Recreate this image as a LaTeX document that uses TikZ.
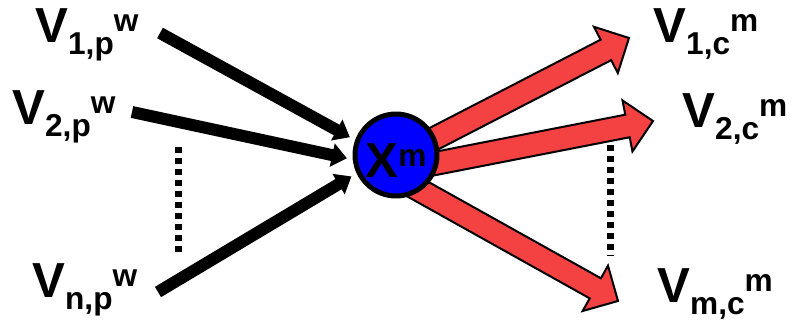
\documentclass[tikz,border=0pt]{standalone}
\usepackage{fontspec}
\setmainfont{Liberation Sans}
\usetikzlibrary{arrows.meta, calc}
\definecolor{hubblue}{RGB}{0,0,255}
\definecolor{outred}{RGB}{244,66,66}
\newcommand{\subsup}[2]{\raisebox{-6.8pt}{\fontsize{18}{18}\selectfont #1}\raisebox{6.3pt}{\fontsize{18}{18}\selectfont #2}}
% block arrow from #1 to tip #2
\newcommand{\blockarrow}[2]{%
  \coordinate (h) at ($(#2)!0.52cm!(#1)$);
  \filldraw[outarrow] ($(#1)!0.23cm!90:(#2)$) -- ($(h)!0.23cm!90:(#2)$) -- ($(h)!0.52cm!90:(#2)$)
    -- (#2) -- ($(h)!0.52cm!-90:(#2)$) -- ($(h)!0.23cm!-90:(#2)$) -- ($(#1)!0.23cm!-90:(#2)$) -- cycle;}

\begin{document}
\begin{tikzpicture}[x=0.02cm, y=-0.02cm,
    lbl/.style={inner sep=0pt, anchor=base west, font=\fontsize{28}{30}\selectfont\bfseries},
    hub/.style={circle, draw, line width=0.1cm, fill=hubblue, minimum size=1.64cm, inner sep=0pt},
    inarrow/.style={line width=0.24cm, -{Triangle[length=0.3cm, width=0.46cm]}, shorten >=0.12cm},
    outarrow/.style={fill=outred, draw=black, line width=0.04cm, line join=miter},
    dots/.style={line width=0.14cm, dash pattern=on 0.12cm off 0.1cm}]
  \useasboundingbox (0,0) rectangle (795,320);
  % sources
  \node[lbl] (v1p) at (35,43) {V\subsup{1,p}{w}};
  \node[lbl] (v2p) at (12,125) {V\subsup{2,p}{w}};
  \node[lbl] (vnp) at (32,298) {V\subsup{n,p}{w}};
  % targets
  \node[lbl] (v1c) at (653,43) {V\subsup{1,c}{m}};
  \node[lbl] (v2c) at (682,128) {V\subsup{2,c}{m}};
  \node[lbl] (vmc) at (657,303) {V\subsup{m,c}{m}};
  \coordinate (a1) at (160,33);
  \coordinate (a2) at (132,112);
  \coordinate (a3) at (158,292);
  \coordinate (s1) at (412,150);
  \coordinate (s2) at (412,168);
  \coordinate (s3) at (405,182);
  \coordinate (t1) at (629,38);
  \coordinate (t2) at (653,121);
  \coordinate (t3) at (618,301);
  % outgoing
  \blockarrow{s1}{t1}
  \blockarrow{s2}{t2}
  \blockarrow{s3}{t3}
  \node[hub] (xm) at (396,155) {};
  \node[lbl, anchor=base] (xmtext) at (396,178) {X\subsup{}{m}};
  % incoming
  \draw[inarrow] (a1) -- (xm.160);
  \draw[inarrow] (a2) -- (xm.186);
  \draw[inarrow] (a3) -- (xm.205);
  \draw[dots] (178,147) -- (178,253);
  \draw[dots] (610,145) -- (610,255);
\end{tikzpicture}
\end{document}
